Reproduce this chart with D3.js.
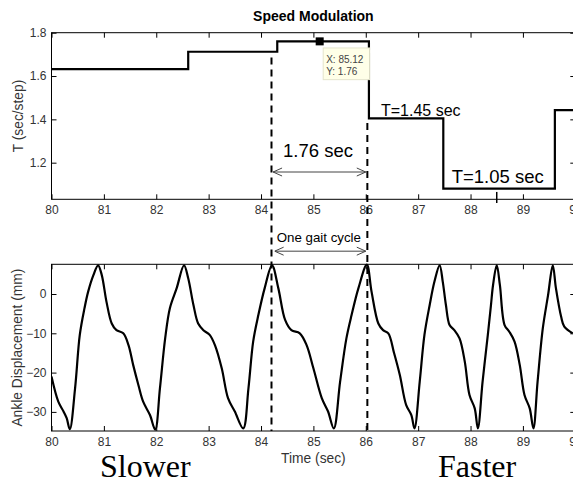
<!DOCTYPE html>
<html><head><meta charset="utf-8">
<script src="https://cdn.jsdelivr.net/npm/d3@7"></script>
<style>body{margin:0;background:#fff}svg{display:block}</style>
</head><body><svg id="c" width="573" height="480"></svg>
<script>
// ---- data ----
const stepT = [80, 82.61, 84.31, 86.06, 87.48, 89.61, 90];
const stepV = [1.632, 1.712, 1.76, 1.405, 1.08, 1.443, 1.443];
const waveT = [80.00,80.13,80.23,80.29,80.35,80.45,80.54,80.63,80.70,80.80,80.89,80.96,81.05,81.15,81.24,81.37,81.47,81.56,81.66,81.75,81.88,81.98,
82.07,82.17,82.26,82.39,82.53,82.61,82.71,82.80,82.90,83.02,83.12,83.25,83.37,83.50,83.66,
83.76,83.85,83.95,84.07,84.21,84.33,84.46,84.58,84.74,84.87,85.00,85.16,85.28,85.39,
85.51,85.63,85.73,85.86,86.02,86.11,86.24,86.33,86.43,86.54,86.65,86.77,86.87,86.93,
87.03,87.12,87.22,87.31,87.41,87.47,87.53,87.60,87.69,87.79,87.89,87.98,88.08,88.14,
88.23,88.33,88.39,88.43,88.50,88.56,88.65,88.74,88.84,88.94,89.03,89.13,89.20,
89.28,89.38,89.48,89.57,89.63,89.73,89.79,89.95];
const waveY = [-21.0,-27.4,-29.9,-31.6,-34.4,-24.0,-10.4,-3.6,0.6,4.8,7.3,4.8,-2.0,-7.5,-9.2,-10.0,-13.0,-18.1,-23.2,-27.4,-30.8,-34.5,
-24.0,-11.3,-3.6,1.5,7.3,4.0,-2.8,-7.5,-9.2,-10.4,-13.0,-18.9,-26.5,-29.9,-34.2,
-24.0,-12.1,-5.3,1.5,7.3,1.5,-6.6,-9.2,-10.0,-13.0,-18.9,-26.5,-29.9,-34.2,
-22.3,-11.3,-5.3,1.5,7.5,0.6,-7.5,-9.2,-10.0,-15.0,-20.6,-28.2,-30.8,-34.2,
-22.3,-10.4,-2.8,3.1,7.3,3.1,-2.8,-7.9,-9.2,-11.3,-17.2,-25.7,-29.1,-34.2,
-22.3,-10.4,-2.8,2.3,7.3,2.3,-7.9,-9.6,-12.1,-18.1,-25.7,-29.1,-34.2,
-22.3,-8.7,-0.3,7.3,1.5,-5.8,-8.3,-10.0];
const xTicks = [80,81,82,83,84,85,86,87,88,89,90];
const topYTicks = [1.2,1.4,1.6,1.8];
const botYTicks = [-30,-20,-10,0];
const cycleMarks = [84.2, 86.03];
const tipX = 85.12, tipY = 1.76;

// ---- layout ----
const svg = d3.select("#c");
const FONT = "Arial, 'Liberation Sans', Helvetica, sans-serif";
const x = d3.scaleLinear().domain([80,90]).range([51.5,575.3]);
const yT = d3.scaleLinear().domain([1.031,1.8]).range([199.3,32.7]);
const yB = d3.scaleLinear().domain([-34.86,7.56]).range([431,264.3]);

function frame(y, yticks, fmt){
  const g = svg.append("g");
  const [y0,y1] = y.range();
  g.append("g").attr("transform",`translate(0,${y0})`)
    .call(d3.axisBottom(x).tickValues(xTicks).tickSizeInner(-5).tickSizeOuter(0).tickPadding(6));
  g.append("g").attr("transform",`translate(0,${y1})`)
    .call(d3.axisTop(x).tickValues(xTicks).tickSizeInner(-5).tickSizeOuter(0).tickFormat(""));
  g.append("g").attr("transform",`translate(${x.range()[0]},0)`)
    .call(d3.axisLeft(y).tickValues(yticks).tickSizeInner(-5).tickSizeOuter(0).tickPadding(5).tickFormat(fmt));
  g.append("g").attr("transform",`translate(${x.range()[1]},0)`)
    .call(d3.axisRight(y).tickValues(yticks).tickSizeInner(-5).tickSizeOuter(0).tickFormat(""));
  g.selectAll(".domain").remove();
  g.selectAll(".tick line").attr("stroke","#000");
  g.selectAll(".tick text").attr("font-family",FONT).attr("font-size",12).attr("fill","#333");
  g.append("rect").attr("x",x.range()[0]).attr("y",y1).attr("width",x.range()[1]-x.range()[0]).attr("height",y0-y1)
    .attr("fill","none").attr("stroke","#000").attr("stroke-width",1);
  return g;
}
frame(yT, topYTicks, d3.format(".1f"));
frame(yB, botYTicks, d3.format("d"));

// clip for bottom plot
svg.append("clipPath").attr("id","cb").append("rect")
  .attr("x",x.range()[0]).attr("y",yB.range()[1]-2).attr("width",x.range()[1]-x.range()[0]).attr("height",yB.range()[0]-yB.range()[1]+3);

// step line
const stepData = stepT.map((t,i)=>[t,stepV[i]]);
svg.append("path").datum(stepData)
  .attr("d", d3.line().x(d=>x(d[0])).y(d=>yT(d[1])).curve(d3.curveStepAfter))
  .attr("fill","none").attr("stroke","#000").attr("stroke-width",2.2);

// wave
const waveData = waveT.map((t,i)=>[t,waveY[i]]);
svg.append("path").datum(waveData).attr("clip-path","url(#cb)")
  .attr("d", d3.line().x(d=>x(d[0])).y(d=>yB(d[1])).curve(d3.curveCatmullRom.alpha(0.5)))
  .attr("fill","none").attr("stroke","#000").attr("stroke-width",2.2).attr("stroke-linejoin","round");

// dashed cycle lines
svg.append("line").attr("x1",x(cycleMarks[0])).attr("x2",x(cycleMarks[0]))
  .attr("y1",yT(1.685)).attr("y2",yB(-34.86))
  .attr("stroke","#000").attr("stroke-width",2).attr("stroke-dasharray","7,5");
svg.append("line").attr("x1",x(cycleMarks[1])).attr("x2",x(cycleMarks[1]))
  .attr("y1",yT(1.383)).attr("y2",yB(-34.86))
  .attr("stroke","#000").attr("stroke-width",2).attr("stroke-dasharray","7,5");

// arrow markers
const defs = svg.append("defs");
["s","e"].forEach(k=>{
  defs.append("marker").attr("id","m"+k).attr("viewBox","0 0 10 10")
    .attr("refX", k==="e"?10:0).attr("refY",5).attr("markerWidth",10).attr("markerHeight",10)
    .attr("markerUnits","userSpaceOnUse").attr("orient","auto")
    .append("path").attr("d", k==="e" ? "M1,1 L10,5 L1,9" : "M9,1 L0,5 L9,9")
    .attr("fill","none").attr("stroke","#444").attr("stroke-width",1);
});
function arrow(x1,x2,yy){
  svg.append("line").attr("x1",x1).attr("x2",x2).attr("y1",yy).attr("y2",yy)
    .attr("stroke","#444").attr("stroke-width",1)
    .attr("marker-start","url(#ms)").attr("marker-end","url(#me)");
}
arrow(x(84.23), x(86.0), yT(1.157));
arrow(x(84.26), x(86.0), yB(10.9));

// annotation texts
function txt(s, px, py, size, opts={}){
  return svg.append("text").attr("x",px).attr("y",py).text(s)
    .attr("font-family",opts.family||FONT).attr("font-size",size)
    .attr("font-weight",opts.weight||"normal").attr("fill",opts.fill||"#000")
    .attr("text-anchor",opts.anchor||"start");
}
txt("1.76 sec", x(84.42), yT(1.225), 18.5);
txt("T=1.45 sec", x(86.29), yT(1.417), 16);
txt("T=1.05 sec", x(87.64), yT(1.105), 18.5);
txt("One gait cycle", x(84.3), yB(13.3), 13.3);

// datatip
const mx = x(tipX), my = yT(tipY);
svg.append("rect").attr("x",mx+3.5).attr("y",my+6.6).attr("width",46.5).attr("height",31.7)
  .attr("fill","#ffffe8").attr("stroke","#e4e4cc").attr("stroke-width",1);
txt("X: 85.12", mx+6.5, my+21.5, 10, {fill:"#444"});
txt("Y: 1.76", mx+6.5, my+33.5, 10, {fill:"#444"});
svg.append("rect").attr("x",mx-4).attr("y",my-4).attr("width",8).attr("height",8).attr("fill","#000");

// cursor tick
svg.append("line").attr("x1",x(88.5)).attr("x2",x(88.5)).attr("y1",yT(1.065)).attr("y2",yT(1.014))
  .attr("stroke","#000").attr("stroke-width",1.5);

// titles and labels
txt("Speed Modulation", (x.range()[0]+x.range()[1])/2, 21, 14, {weight:"bold", anchor:"middle"});
svg.append("text").attr("transform",`translate(22.5,${(yT.range()[0]+yT.range()[1])/2}) rotate(-90)`)
  .attr("text-anchor","middle").attr("font-family",FONT).attr("font-size",13.8).attr("fill","#333").text("T (sec/step)");
svg.append("text").attr("transform",`translate(22,${(yB.range()[0]+yB.range()[1])/2}) rotate(-90)`)
  .attr("text-anchor","middle").attr("font-family",FONT).attr("font-size",13.8).attr("fill","#333").text("Ankle Displacement (mm)");
txt("Time (sec)", (x.range()[0]+x.range()[1])/2, 463, 13.8, {anchor:"middle", fill:"#333"});
txt("Slower", 100, 477, 32, {family:"'Times New Roman','Liberation Serif',serif"});
txt("Faster", 438, 477, 32, {family:"'Times New Roman','Liberation Serif',serif"});
</script></body></html>
